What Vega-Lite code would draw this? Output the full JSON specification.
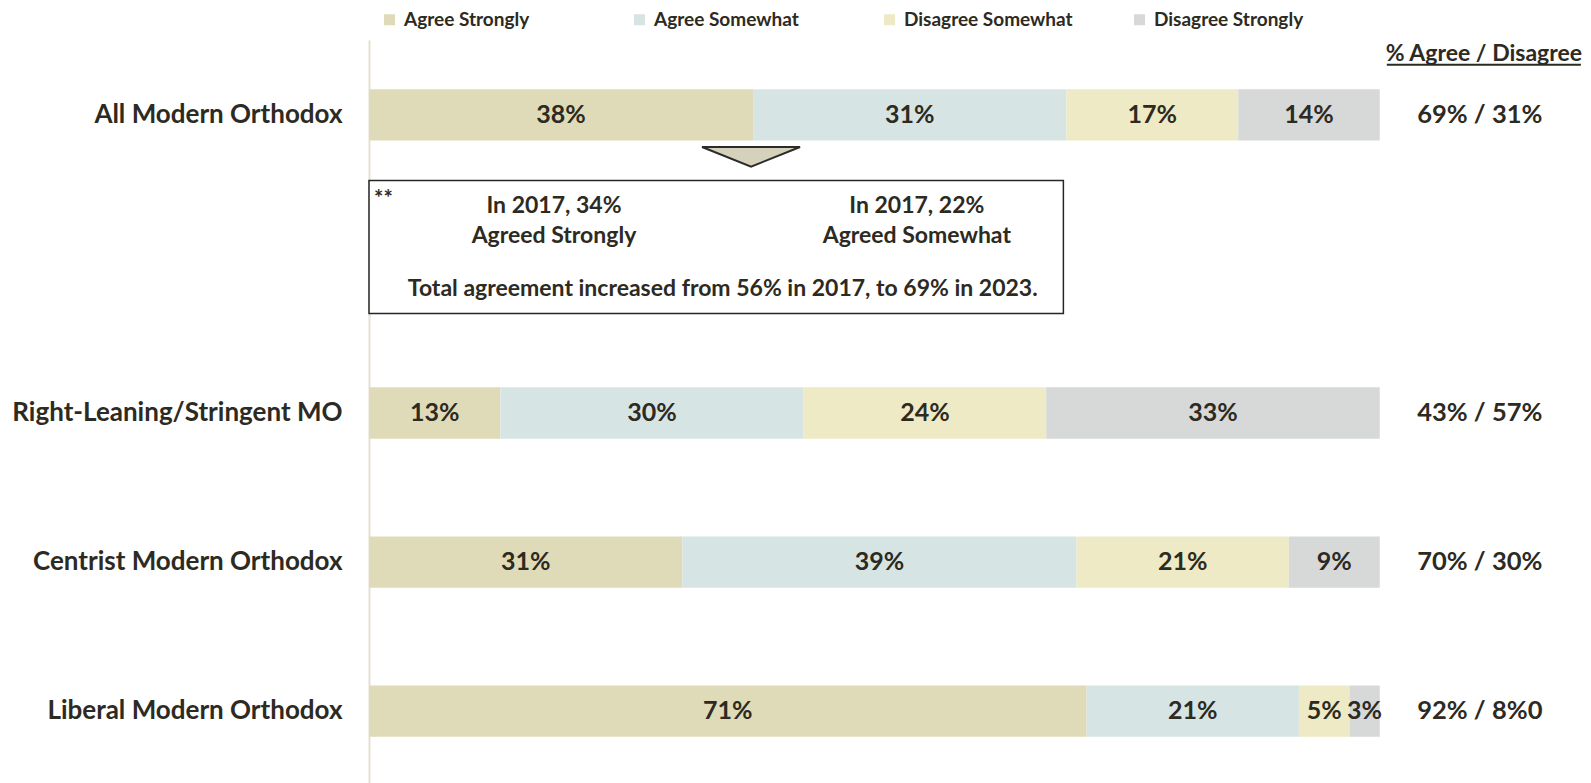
{
  "$schema": "https://vega.github.io/schema/vega-lite/v6.json",
  "width": 1223,
  "height": 746,
  "autosize": {"type": "none"},
  "padding": {"left": 369, "top": 40, "right": 0, "bottom": 0},
  "background": "white",
  "config": {"view": {"stroke": null}, "font": "Lato", "text": {"font": "Lato", "fontWeight": "bold", "color": "#2d2a22"}},
  "datasets": {
    "bars": [
      {"group": "All Modern Orthodox", "response": "Agree Strongly", "value": 38},
      {"group": "All Modern Orthodox", "response": "Agree Somewhat", "value": 31},
      {"group": "All Modern Orthodox", "response": "Disagree Somewhat", "value": 17},
      {"group": "All Modern Orthodox", "response": "Disagree Strongly", "value": 14},
      {"group": "Right-Leaning/Stringent MO", "response": "Agree Strongly", "value": 13},
      {"group": "Right-Leaning/Stringent MO", "response": "Agree Somewhat", "value": 30},
      {"group": "Right-Leaning/Stringent MO", "response": "Disagree Somewhat", "value": 24},
      {"group": "Right-Leaning/Stringent MO", "response": "Disagree Strongly", "value": 33},
      {"group": "Centrist Modern Orthodox", "response": "Agree Strongly", "value": 31},
      {"group": "Centrist Modern Orthodox", "response": "Agree Somewhat", "value": 39},
      {"group": "Centrist Modern Orthodox", "response": "Disagree Somewhat", "value": 21},
      {"group": "Centrist Modern Orthodox", "response": "Disagree Strongly", "value": 9},
      {"group": "Liberal Modern Orthodox", "response": "Agree Strongly", "value": 71},
      {"group": "Liberal Modern Orthodox", "response": "Agree Somewhat", "value": 21},
      {"group": "Liberal Modern Orthodox", "response": "Disagree Somewhat", "value": 5},
      {"group": "Liberal Modern Orthodox", "response": "Disagree Strongly", "value": 3}
    ],
    "totals": [
      {"group": "All Modern Orthodox", "label": "69% / 31%"},
      {"group": "Right-Leaning/Stringent MO", "label": "43% / 57%"},
      {"group": "Centrist Modern Orthodox", "label": "70% / 30%"},
      {"group": "Liberal Modern Orthodox", "label": "92% / 8%0"}
    ]
  },
  "encoding": {
    "y": {
      "field": "group",
      "type": "nominal",
      "scale": {
        "domain": ["All Modern Orthodox", " ", "Right-Leaning/Stringent MO", "Centrist Modern Orthodox", "Liberal Modern Orthodox"],
        "paddingInner": 0.656,
        "paddingOuter": 0.33
      },
      "axis": {
        "title": null,
        "ticks": false,
        "labelPadding": 27,
        "labelFont": "Lato",
        "labelFontWeight": "bold",
        "labelFontSize": 26,
        "labelColor": "#2d2a22",
        "labelLimit": 400,
        "domainColor": "#e4e0d2",
        "domainWidth": 2,
        "grid": false
      }
    }
  },
  "layer": [
    {
      "data": {"name": "bars"},
      "transform": [
        {"calculate": "indexof(['Agree Strongly','Agree Somewhat','Disagree Somewhat','Disagree Strongly'], datum.response)", "as": "ord"},
        {"stack": "value", "groupby": ["group"], "sort": [{"field": "ord", "order": "ascending"}], "as": ["x0", "x1"]},
        {"calculate": "(datum.x0 + datum.x1) / 2", "as": "xm"},
        {"calculate": "datum.value + '%'", "as": "lab"}
      ],
      "layer": [
        {
          "mark": {"type": "bar", "cornerRadius": 0},
          "encoding": {
            "x": {"field": "x0", "type": "quantitative", "scale": {"domain": [0, 121], "nice": false, "zero": true}, "axis": null},
            "x2": {"field": "x1"},
            "color": {
              "field": "response",
              "type": "nominal",
              "scale": {
                "domain": ["Agree Strongly", "Agree Somewhat", "Disagree Somewhat", "Disagree Strongly"],
                "range": ["#dfdbb8", "#d6e4e4", "#eeeac5", "#d6d9d8"]
              },
              "legend": {
                "title": null,
                "orient": "none",
                "legendX": 11,
                "legendY": -30,
                "direction": "horizontal",
                "columns": 4,
                "gridAlign": "all",
                "columnPadding": 57,
                "symbolType": "square",
                "symbolSize": 121,
                "symbolStrokeWidth": 0,
                "labelFont": "Lato",
                "labelFontSize": 19,
                "labelFontWeight": "bold",
                "labelColor": "#2d2a22",
                "labelOffset": 5,
                "labelLimit": 300
              }
            }
          }
        },
        {
          "mark": {"type": "text", "fontSize": 25, "align": "center", "baseline": "middle"},
          "encoding": {
            "x": {"field": "xm", "type": "quantitative"},
            "text": {"field": "lab", "type": "nominal"}
          }
        }
      ]
    },
    {
      "data": {"name": "totals"},
      "mark": {"type": "text", "fontSize": 25.5, "align": "center", "baseline": "middle"},
      "encoding": {
        "x": {"datum": 109.9, "type": "quantitative"},
        "text": {"field": "label", "type": "nominal"}
      }
    },
    {
      "data": {"values": [{"t": "% Agree / Disagree"}]},
      "mark": {"type": "text", "fontSize": 23, "align": "center", "baseline": "middle", "yOffset": -61},
      "encoding": {
        "x": {"datum": 110.3, "type": "quantitative"},
        "y": {"datum": "All Modern Orthodox", "type": "nominal"},
        "text": {"field": "t", "type": "nominal"}
      }
    },
    {
      "data": {"values": [{}]},
      "mark": {"type": "rule", "color": "#2d2a22", "strokeWidth": 2, "yOffset": -50},
      "encoding": {
        "x": {"datum": 100.7, "type": "quantitative"},
        "x2": {"datum": 119.9},
        "y": {"datum": "All Modern Orthodox", "type": "nominal"}
      }
    },
    {
      "data": {"values": [{}]},
      "mark": {"type": "point", "shape": "M-1,-0.2L1,-0.2L0,0.2Z", "size": 9604, "filled": true, "fill": "#d5d1ba", "stroke": "#2b2b2b", "strokeWidth": 2, "opacity": 1, "yOffset": 42},
      "encoding": {
        "x": {"datum": 37.8, "type": "quantitative"},
        "y": {"datum": "All Modern Orthodox", "type": "nominal"}
      }
    },
    {
      "data": {"values": [{}]},
      "mark": {"type": "rect", "height": 133, "yOffset": -17, "fill": "white", "stroke": "#262626", "strokeWidth": 1.5},
      "encoding": {
        "x": {"datum": 0, "type": "quantitative"},
        "x2": {"datum": 68.7},
        "y": {"datum": " ", "type": "nominal"}
      }
    },
    {
      "data": {"values": [{"t": "**"}]},
      "mark": {"type": "text", "fontSize": 22, "align": "left", "baseline": "middle", "yOffset": -65},
      "encoding": {
        "x": {"datum": 0.5, "type": "quantitative"},
        "y": {"datum": " ", "type": "nominal"},
        "text": {"field": "t", "type": "nominal"}
      }
    },
    {
      "data": {"values": [{"t": "In 2017, 34%\nAgreed Strongly"}]},
      "mark": {"type": "text", "fontSize": 23, "align": "center", "baseline": "middle", "lineBreak": "\n", "lineHeight": 30, "yOffset": -57.5},
      "encoding": {
        "x": {"datum": 18.3, "type": "quantitative"},
        "y": {"datum": " ", "type": "nominal"},
        "text": {"field": "t", "type": "nominal"}
      }
    },
    {
      "data": {"values": [{"t": "In 2017, 22%\nAgreed Somewhat"}]},
      "mark": {"type": "text", "fontSize": 23, "align": "center", "baseline": "middle", "lineBreak": "\n", "lineHeight": 30, "yOffset": -57.5},
      "encoding": {
        "x": {"datum": 54.2, "type": "quantitative"},
        "y": {"datum": " ", "type": "nominal"},
        "text": {"field": "t", "type": "nominal"}
      }
    },
    {
      "data": {"values": [{"t": "Total agreement increased from 56% in 2017, to 69% in 2023."}]},
      "mark": {"type": "text", "fontSize": 23, "align": "center", "baseline": "middle", "yOffset": 25.5},
      "encoding": {
        "x": {"datum": 35.0, "type": "quantitative"},
        "y": {"datum": " ", "type": "nominal"},
        "text": {"field": "t", "type": "nominal"}
      }
    }
  ]
}
